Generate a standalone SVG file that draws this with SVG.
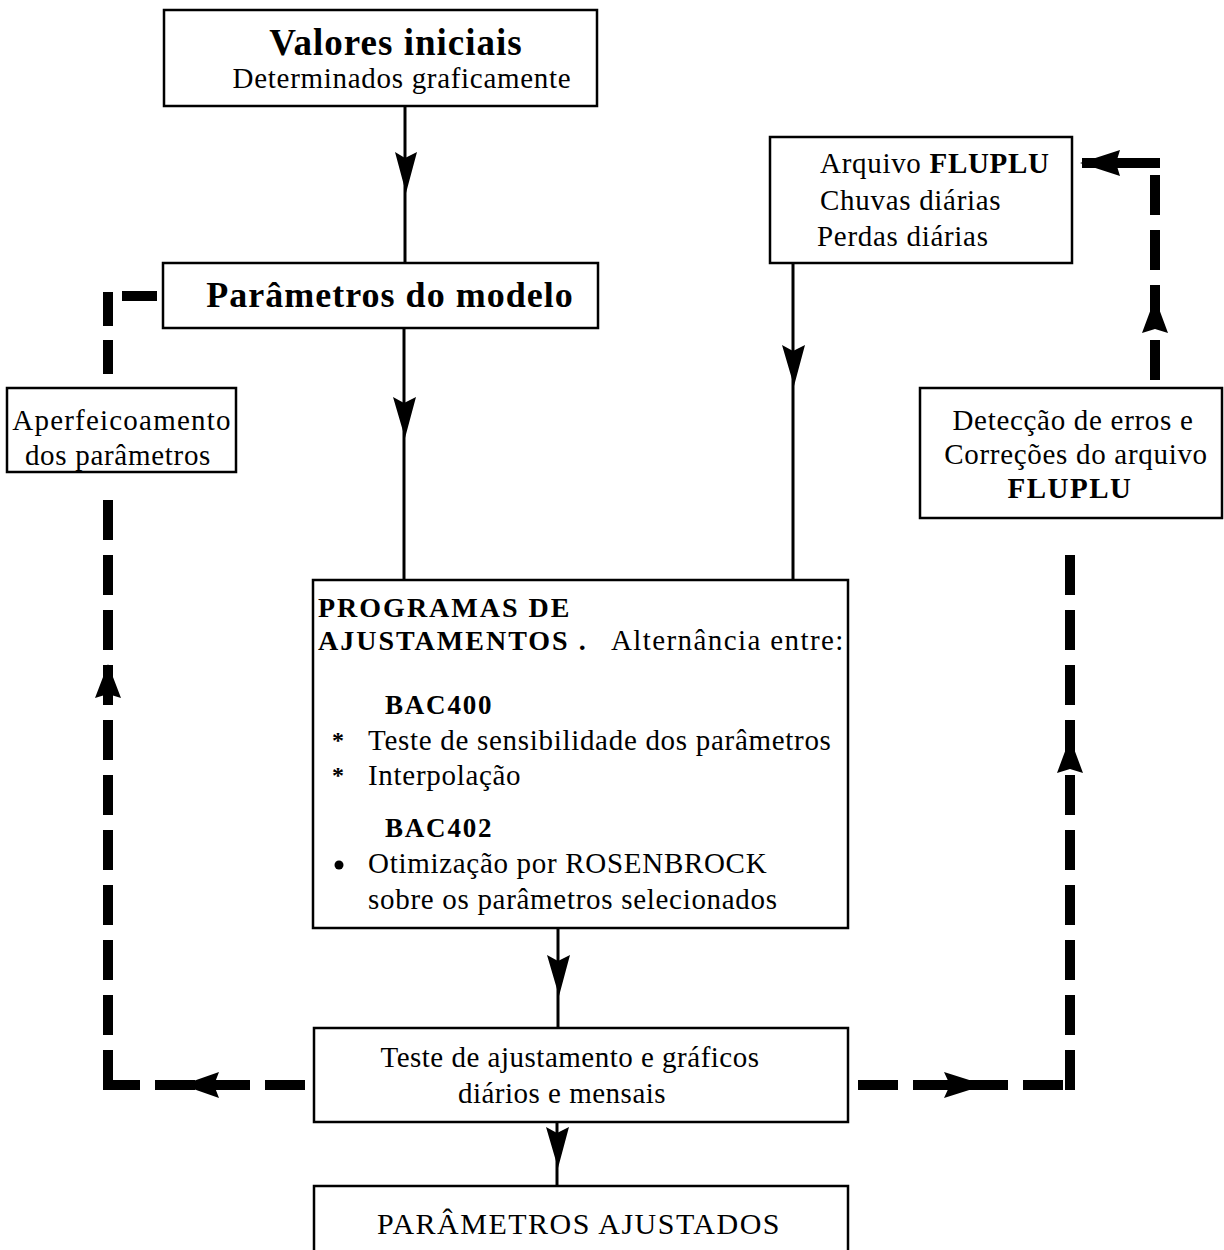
<svg xmlns="http://www.w3.org/2000/svg" width="1224" height="1250" viewBox="0 0 1224 1250">
<style>
.box{fill:#fff;stroke:#000;stroke-width:2.5}
.t{font-family:"Liberation Serif","Times New Roman",serif;fill:#000;font-size:29px;letter-spacing:0.7px}
.b{font-weight:bold}
.c{text-anchor:middle}
.ln{stroke:#000;stroke-width:3;fill:none}
.dl{stroke:#000;stroke-width:10;fill:none;stroke-dasharray:40 15}
.ah{fill:#000;stroke:none}
</style>
<rect width="1224" height="1250" fill="#fff"/>
<g id="connectors">
  <line class="ln" x1="405" y1="106" x2="405" y2="263"/>
  <polygon class="ah" points="395,152 405,158 417,152 406,193"/>
  <line class="ln" x1="404" y1="328" x2="404" y2="580"/>
  <polygon class="ah" points="393,397 404,403 416,397 405,438"/>
  <line class="ln" x1="793" y1="263" x2="793" y2="580"/>
  <polygon class="ah" points="782,345 793,351 805,345 794,386"/>
  <line class="ln" x1="558" y1="928" x2="558" y2="1028"/>
  <polygon class="ah" points="547,955 558,961 570,955 559,996"/>
  <line class="ln" x1="557" y1="1122" x2="557" y2="1186"/>
  <polygon class="ah" points="546,1127 557,1133 569,1127 558,1168"/>
  <line class="dl" x1="157" y1="296" x2="122" y2="296" style="stroke-dasharray:none"/>
  <line class="dl" x1="108" y1="292" x2="108" y2="385" style="stroke-dasharray:34 14"/>
  <line class="dl" x1="108" y1="1090" x2="108" y2="492"/>
  <polygon class="ah" points="108,664 121,698 108,694 95,698"/>
  <line class="dl" x1="305" y1="1085" x2="103" y2="1085"/>
  <polygon class="ah" points="182,1085 219,1072 214,1085 219,1098"/>
  <line class="dl" x1="858" y1="1085" x2="1070" y2="1085"/>
  <polygon class="ah" points="985,1085 944,1072 950,1085 944,1098"/>
  <line class="dl" x1="1070" y1="1090" x2="1070" y2="548"/>
  <polygon class="ah" points="1070,738 1083,773 1070,769 1057,773"/>
  <line class="dl" x1="1155" y1="380" x2="1155" y2="165"/>
  <polygon class="ah" points="1155,298 1168,333 1155,329 1142,333"/>
  <line class="dl" x1="1160" y1="163" x2="1082" y2="163" style="stroke-dasharray:none"/>
  <polygon class="ah" points="1080,163 1120,150 1116,163 1120,176"/>
</g>
<g id="valores">
  <rect class="box" x="164" y="10" width="433" height="96"/>
  <text class="t b c" x="396" y="55" style="font-size:37px;letter-spacing:1px">Valores iniciais</text>
  <text class="t c" x="402" y="88">Determinados graficamente</text>
</g>
<g id="parametros">
  <rect class="box" x="163" y="263" width="435" height="65"/>
  <text class="t b c" x="390" y="307" style="font-size:36px;letter-spacing:1px">Parâmetros do modelo</text>
</g>
<g id="aperfeicoamento">
  <rect class="box" x="7" y="388" width="229" height="84"/>
  <text class="t c" x="122" y="430" style="letter-spacing:1.2px">Aperfeicoamento</text>
  <text class="t c" x="118" y="465">dos parâmetros</text>
</g>
<g id="arquivo">
  <rect class="box" x="770" y="137" width="302" height="126"/>
  <text class="t" x="820" y="173">Arquivo <tspan class="b">FLUPLU</tspan></text>
  <text class="t" x="820" y="210">Chuvas diárias</text>
  <text class="t" x="817" y="246">Perdas diárias</text>
</g>
<g id="deteccao">
  <rect class="box" x="920" y="388" width="302" height="130"/>
  <text class="t c" x="1073" y="430">Detecção de erros e</text>
  <text class="t c" x="1076" y="464">Correções do arquivo</text>
  <text class="t b c" x="1070" y="498" style="letter-spacing:1.5px">FLUPLU</text>
</g>
<g id="programas">
  <rect class="box" x="313" y="580" width="535" height="348"/>
  <text class="t b" x="318" y="617" style="font-size:28px;letter-spacing:2px">PROGRAMAS DE</text>
  <text class="t b" x="318" y="650" style="font-size:28px;letter-spacing:2px">AJUSTAMENTOS .</text>
  <text class="t" x="611" y="650" style="letter-spacing:1.4px">Alternância entre:</text>
  <text class="t b" x="385" y="714" style="font-size:27px;letter-spacing:1.8px">BAC400</text>
  <text class="t b" x="332" y="748" style="font-size:24px">*</text>
  <text class="t" x="368" y="750">Teste de sensibilidade dos parâmetros</text>
  <text class="t b" x="332" y="783" style="font-size:24px">*</text>
  <text class="t" x="368" y="785">Interpolação</text>
  <text class="t b" x="385" y="837" style="font-size:27px;letter-spacing:1.8px">BAC402</text>
  <circle cx="339" cy="865" r="4.5" fill="#000"/>
  <text class="t" x="368" y="873">Otimização por ROSENBROCK</text>
  <text class="t" x="368" y="909">sobre os parâmetros selecionados</text>
</g>
<g id="teste">
  <rect class="box" x="314" y="1028" width="534" height="94"/>
  <text class="t c" x="570" y="1067" style="letter-spacing:0.5px">Teste de ajustamento e gráficos</text>
  <text class="t c" x="562" y="1103" style="letter-spacing:0.5px">diários e mensais</text>
</g>
<g id="ajustados">
  <rect class="box" x="314" y="1186" width="534" height="70"/>
  <text class="t c" x="579" y="1234" style="font-size:30px;letter-spacing:1.5px">PARÂMETROS AJUSTADOS</text>
</g>
</svg>
